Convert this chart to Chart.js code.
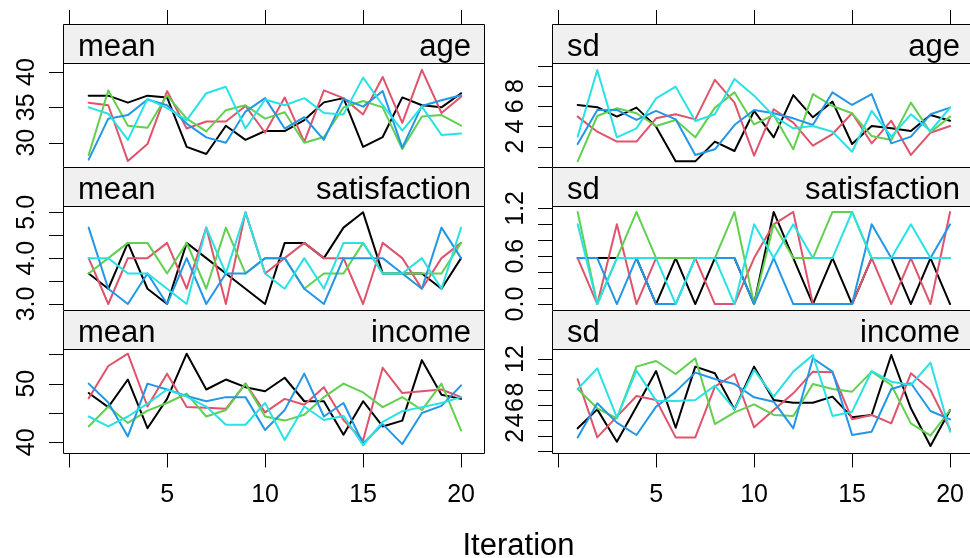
<!DOCTYPE html>
<html><head><meta charset="utf-8">
<script src="https://cdn.jsdelivr.net/npm/chart.js@4/dist/chart.umd.min.js"></script>
<style>
html,body{margin:0;padding:0;background:#fff;overflow:hidden;width:970px;height:558px;}
canvas{position:absolute;left:0;top:0;}
</style></head><body>
<canvas id="c0" width="980" height="558"></canvas>
<canvas id="c1" width="980" height="558"></canvas>
<canvas id="c2" width="980" height="558"></canvas>
<canvas id="c3" width="980" height="558"></canvas>
<canvas id="c4" width="980" height="558"></canvas>
<canvas id="c5" width="980" height="558"></canvas>
<script>
const iterations = [1,2,3,4,5,6,7,8,9,10,11,12,13,14,15,16,17,18,19,20];
const chainColors = ['#000000','#DF536B','#61D04F','#2297E6','#28E2E5'];
const xTickValues = [0,5,10,15,20];
const xTickLabels = ['','5','10','15','20'];
const xLabel = 'Iteration';

// each array: one row per chain (black, red, green, blue, cyan)
const meanAge = [
 [36.65,36.65,35.66,36.65,36.4,29.4,28.4,32.4,30.4,31.65,31.65,33.2,35.7,36.3,29.4,30.8,36.4,35.3,35.0,37.0],
 [35.66,35.3,27.4,29.8,37.3,32.0,33.0,33.0,35.2,31.4,36.4,30.1,37.4,36.3,34.0,39.3,32.8,40.3,34.2,36.5],
 [28.25,37.4,32.4,32.1,36.7,33.4,31.6,34.6,35.3,33.4,34.3,30.0,30.8,35.0,35.9,35.0,29.1,33.7,33.9,32.4],
 [27.6,33.4,33.9,36.1,35.3,32.7,30.75,30.0,34.4,36.3,32.0,33.6,30.4,36.2,35.1,37.3,29.3,35.2,36.0,36.7],
 [35.0,34.1,30.4,36.2,34.9,33.2,37.0,37.9,32.0,36.1,35.3,36.3,34.2,34.0,39.2,35.3,31.7,35.1,31.1,31.3]
];
const meanSatisfaction = [
 [3.667,3.333,4.333,3.333,3.0,4.333,4.0,3.667,3.333,3.0,4.333,4.333,4.0,4.667,5.0,3.667,3.667,3.667,3.333,4.0],
 [4.0,3.0,4.0,4.0,4.333,3.333,4.667,3.0,5.0,3.667,4.0,4.333,4.0,4.0,3.0,4.333,4.0,3.333,4.0,4.333],
 [3.667,4.0,4.333,4.333,3.667,4.333,3.333,4.667,3.667,4.0,4.0,3.333,3.667,3.667,4.333,3.667,3.667,3.667,3.667,4.333],
 [4.667,3.333,3.0,3.667,3.0,4.0,3.0,3.667,3.667,4.0,4.0,3.333,3.0,4.0,4.0,4.0,3.667,3.333,4.667,4.0],
 [4.0,4.0,3.667,3.667,3.333,3.0,4.667,3.667,5.0,3.667,3.333,4.0,3.333,4.333,4.333,3.667,3.667,4.0,3.333,4.667]
];
const meanIncome = [
 [48.4,46.0,50.7,42.4,47.4,55.1,49.0,50.7,49.4,48.7,51.0,47.0,47.0,41.3,47.0,42.7,43.7,54.0,48.1,47.4],
 [47.5,53.0,55.1,46.1,51.7,46.0,45.9,45.7,50.0,45.1,47.4,46.4,49.4,43.8,40.3,52.7,48.4,48.7,49.0,47.7],
 [42.7,46.1,43.3,45.4,46.7,48.3,44.4,45.5,50.0,44.4,43.7,44.7,47.7,50.0,48.5,46.0,47.7,45.5,50.0,42.0],
 [50.0,46.8,41.0,50.0,49.0,47.9,47.0,47.7,47.7,42.1,45.5,51.7,44.4,46.7,39.8,43.1,39.7,45.0,46.2,49.7],
 [44.4,42.7,44.4,46.6,49.0,47.8,46.1,43.0,43.0,46.7,40.4,46.1,43.8,44.5,39.5,43.5,45.3,46.0,46.7,47.7]
];
const sdAge = [
 [6.12,5.9,4.97,5.86,3.98,0.55,0.55,2.5,1.57,5.53,2.92,7.1,4.9,6.45,2.26,4.04,3.81,3.55,5.13,4.57],
 [4.97,3.48,2.5,2.5,4.8,5.2,4.7,8.6,6.35,1.11,5.7,4.37,2.1,3.25,5.3,2.33,4.57,1.18,3.38,4.04],
 [0.55,5.03,5.8,5.3,4.04,4.64,2.92,5.86,7.37,4.2,5.13,1.74,7.2,6.02,5.3,3.05,2.66,6.35,3.42,4.97],
 [2.26,5.63,5.63,4.64,5.53,4.7,1.18,1.74,4.14,5.63,5.3,4.8,4.14,7.37,6.12,7.2,2.33,2.99,5.2,5.86],
 [2.99,9.58,2.92,3.81,6.78,7.93,4.54,5.2,8.69,7.04,5.03,3.81,4.04,3.48,1.5,5.53,2.99,5.2,3.55,5.86]
];
const sdSatisfaction = [
 [0.577,0.577,0.577,0.577,0,0.577,0,0.577,0.577,0,1.155,0.577,0,0.577,0,0.577,0.577,0,0.577,0],
 [0.577,0,1.0,0,0.577,0.577,0.577,0,0,0.577,1.0,1.155,0,0,0,0.577,0,0.577,0,1.155],
 [1.155,0,0.577,1.155,0.577,0.577,0.577,0.577,1.155,0,1.0,0.577,0.577,1.155,1.155,0.577,0.577,0.577,0.577,0.577],
 [0.577,0.577,0,0.577,0,0,0.577,0.577,0.577,0,0.577,0,0,0,0,1.0,0.577,0.577,0.577,1.0],
 [1.0,0,0.577,0.577,0.577,0,0.577,0.577,0,1.0,0.577,1.0,0.577,0.577,1.155,0.577,0.577,1.0,0.577,0.577]
];
const sdIncome = [
 [2.96,5.43,1.22,5.78,10.43,3.04,11.0,10.13,5.43,11.0,6.65,6.3,6.3,7.09,4.39,4.7,12.52,5.57,0.65,5.35],
 [9.35,1.78,4.48,7.17,6.65,1.78,1.78,8.39,10.04,3.09,5.35,7.52,10.35,10.26,4.13,4.7,3.61,10.13,7.96,2.83],
 [8.09,5.57,4.26,11.0,11.74,10.04,12.09,3.52,5.04,6.09,4.7,4.57,8.74,8.09,7.74,10.35,8.61,3.61,2.0,5.35],
 [1.78,6.22,3.7,2.09,5.78,7.74,10.22,9.39,8.74,7.0,6.43,2.96,12.09,10.35,2.09,2.52,8.09,8.83,5.22,4.13],
 [8.09,10.78,4.39,10.48,6.57,6.52,6.65,8.52,5.43,10.57,7.09,10.35,12.52,4.57,5.13,10.43,9.04,8.61,11.52,2.52]
];

const meanAgeTicks = [30,35,40];           const meanAgeLabels = ['30','35','40'];
const meanSatTicks = [3,3.5,4,4.5,5];      const meanSatLabels = ['3.0','','4.0','','5.0'];
const meanIncTicks = [40,45,50,55];        const meanIncLabels = ['40','','50',''];
const sdAgeTicks = [0,2,4,6,8,10];         const sdAgeLabels = ['','2','4','6','8',''];
const sdSatTicks = [0,0.2,0.4,0.6,0.8,1.0,1.2]; const sdSatLabels = ['0.0','','','0.6','','','1.2'];
const sdIncTicks = [0,2,4,6,8,10,12];      const sdIncLabels = ['','2','4','6','8','','12'];

const FONT = '"Liberation Sans", Arial, Helvetica, sans-serif';

function makePanel(id, stat, varName, series, yTicks, yLabels, ymin, ymax, col, row) {
  const L = col === 0 ? 63 : 552, R = L + 422;
  const stripTop = 24 + row * 143, top = stripTop + 39, bottom = top + 104;
  new Chart(document.getElementById(id), {
    type: 'line',
    data: {
      datasets: series.map((vals, i) => ({
        data: vals.map((v, j) => ({x: iterations[j], y: v})),
        borderColor: chainColors[i], borderWidth: 2, pointRadius: 0, tension: 0,
        fill: false, order: 5 - i, borderJoinStyle: 'round', borderCapStyle: 'round'
      }))
    },
    options: {
      responsive: false, animation: false, devicePixelRatio: 1, events: [],
      layout: {padding: {left: L, right: 980 - R, top: top, bottom: 558 - bottom}},
      scales: {
        x: {type: 'linear', min: -0.31, max: 21.22, display: false},
        y: {type: 'linear', min: ymin, max: ymax, display: false}
      },
      plugins: {legend: {display: false}, tooltip: {enabled: false}}
    },
    plugins: [{
      id: 'lattice',
      afterDraw(chart) {
        const ctx = chart.ctx, a = chart.chartArea, xs = chart.scales.x, ys = chart.scales.y;
        const l = Math.round(a.left), r = Math.round(a.right), t = Math.round(a.top), b = Math.round(a.bottom);
        const st = t - 39;
        ctx.save();
        ctx.fillStyle = '#F0F0F0';
        ctx.fillRect(l, st, r - l, t - st);
        ctx.strokeStyle = '#000'; ctx.lineWidth = 1;
        ctx.beginPath();
        ctx.rect(l + 0.5, st + 0.5, r - l - 1, b - st);
        ctx.moveTo(l, t + 0.5); ctx.lineTo(r, t + 0.5);
        ctx.stroke();
        // strip text
        ctx.fillStyle = '#000';
        ctx.font = '31px ' + FONT;
        ctx.textBaseline = 'alphabetic';
        ctx.textAlign = 'left'; ctx.fillText(stat, l + 15, st + 31.5);
        ctx.textAlign = 'right'; ctx.fillText(varName, r - 14, st + 31.5);
        // y ticks
        ctx.beginPath();
        yTicks.forEach(v => {
          const y = Math.round(ys.getPixelForValue(v)) + 0.5;
          ctx.moveTo(l - 14, y); ctx.lineTo(l, y);
        });
        ctx.stroke();
        ctx.font = '25px ' + FONT;
        ctx.textAlign = 'center';
        yTicks.forEach((v, k) => {
          if (!yLabels[k]) return;
          const y = ys.getPixelForValue(v);
          ctx.save();
          ctx.translate(l - 29, y);
          ctx.rotate(-Math.PI / 2);
          ctx.fillText(yLabels[k], 0, 0);
          ctx.restore();
        });
        // top ticks
        if (row === 0) {
          ctx.beginPath();
          xTickValues.forEach(v => {
            const x = Math.round(xs.getPixelForValue(v)) + 0.5;
            ctx.moveTo(x, st - 14); ctx.lineTo(x, st);
          });
          ctx.stroke();
        }
        // bottom ticks
        if (row === 2) {
          ctx.beginPath();
          xTickValues.forEach(v => {
            const x = Math.round(xs.getPixelForValue(v)) + 0.5;
            ctx.moveTo(x, b); ctx.lineTo(x, b + 14.5);
          });
          ctx.stroke();
          xTickValues.forEach((v, k) => {
            if (!xTickLabels[k]) return;
            ctx.fillText(xTickLabels[k], xs.getPixelForValue(v), 502);
          });
          if (col === 1) {
            ctx.font = '31px ' + FONT;
            ctx.fillText(xLabel, 518.5, 555);
          }
        }
        ctx.restore();
      }
    }]
  });
}

makePanel('c0', 'mean', 'age', meanAge, meanAgeTicks, meanAgeLabels, 26.56, 41.27, 0, 0);
makePanel('c1', 'mean', 'satisfaction', meanSatisfaction, meanSatTicks, meanSatLabels, 2.869, 5.138, 0, 1);
makePanel('c2', 'mean', 'income', meanIncome, meanIncTicks, meanIncLabels, 38.18, 55.9, 0, 2);
makePanel('c3', 'sd', 'age', sdAge, sdAgeTicks, sdAgeLabels, -0.01, 10.27, 1, 0);
makePanel('c4', 'sd', 'satisfaction', sdSatisfaction, sdSatTicks, sdSatLabels, -0.075, 1.2296, 1, 1);
makePanel('c5', 'sd', 'income', sdIncome, sdIncTicks, sdIncLabels, -0.256, 13.3, 1, 2);
</script>
</body></html>
